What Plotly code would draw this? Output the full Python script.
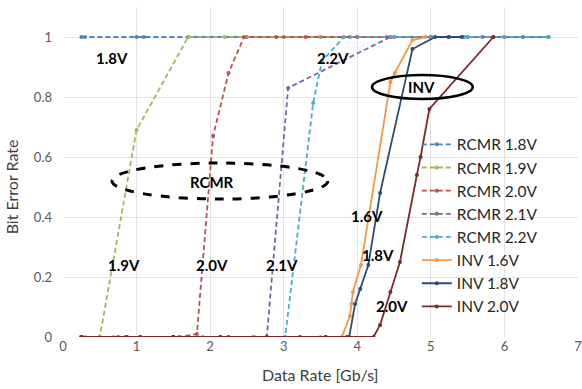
import plotly.graph_objects as go

# ---- data ----
rcmr18_x = [0.25, 0.3, 1.0, 1.1, 1.7, 2.5, 3.0, 3.5, 3.9, 4.4, 5.25, 5.45, 5.7, 6.25, 6.6]
rcmr18_y = [1, 1, 1, 1, 1, 1, 1, 1, 1, 1, 1, 1, 1, 1, 1]

rcmr19_x = [0.25, 0.3, 0.5, 1.0, 1.7, 2.2, 3.0, 4.0, 5.0, 6.0]
rcmr19_y = [0, 0, 0, 0.69, 1, 1, 1, 1, 1, 1]

rcmr20_x = [0.25, 0.85, 1.05, 1.5, 1.58, 1.82, 2.04, 2.25, 2.46, 2.9, 3.3, 4.0, 4.5, 5.0, 5.85]
rcmr20_y = [0, 0, 0, 0, 0, 0.01, 0.67, 0.88, 1, 1, 1, 1, 1, 1, 1]

rcmr21_x = [0.25, 0.75, 1.5, 2.14, 2.59, 2.77, 3.06, 4.45, 5.0, 5.5, 6.0]
rcmr21_y = [0, 0, 0, 0, 0, 0, 0.83, 1, 1, 1, 1]

rcmr22_x = [0.25, 0.5, 1.05, 1.9, 2.59, 3.02, 3.40, 3.52, 3.82, 4.5, 5.0, 5.5, 6.0, 6.6]
rcmr22_y = [0, 0, 0, 0, 0, 0, 0.78, 0.92, 1, 1, 1, 1, 1, 1]

inv16_x = [0.25, 0.68, 1.5, 2.6, 3.5, 3.79, 3.90, 3.92, 3.94, 4.05, 4.45, 4.51, 4.75, 4.93]
inv16_y = [0, 0, 0, 0, 0, 0, 0.07, 0.11, 0.15, 0.24, 0.85, 0.88, 0.99, 1]

inv18_x = [0.25, 0.87, 1.5, 2.25, 3.22, 3.57, 3.89, 3.97, 4.04, 4.15, 4.31, 4.75, 5.06, 5.24, 5.42]
inv18_y = [0, 0, 0, 0, 0, 0, 0, 0.11, 0.16, 0.24, 0.48, 0.96, 1, 1, 1]

inv20_x = [0.25, 1.05, 1.5, 2.14, 2.77, 3.57, 3.86, 4.22, 4.31, 4.45, 4.58, 4.81, 4.86, 4.98, 5.85]
inv20_y = [0, 0, 0, 0, 0, 0, 0, 0, 0.04, 0.15, 0.25, 0.54, 0.60, 0.76, 1]

series = [
    ("RCMR 1.8V", rcmr18_x, rcmr18_y, "#4F81BD", "5px,3px"),
    ("RCMR 1.9V", rcmr19_x, rcmr19_y, "#9BBB59", "5px,3px"),
    ("RCMR 2.0V", rcmr20_x, rcmr20_y, "#C0504D", "5px,3px"),
    ("RCMR 2.1V", rcmr21_x, rcmr21_y, "#8064A2", "5px,3px"),
    ("RCMR 2.2V", rcmr22_x, rcmr22_y, "#4BACC6", "5px,3px"),
    ("INV 1.6V", inv16_x, inv16_y, "#F79646", "solid"),
    ("INV 1.8V", inv18_x, inv18_y, "#2C4D75", "solid"),
    ("INV 2.0V", inv20_x, inv20_y, "#772C2A", "solid"),
]

x_ticks = [0, 1, 2, 3, 4, 5, 6, 7]
y_ticks = [0, 0.2, 0.4, 0.6, 0.8, 1]
y_ticktext = ["0", "0.2", "0.4", "0.6", "0.8", "1"]

labels = [
    ("1.8V", 0.67, 0.93), ("1.9V", 0.83, 0.24), ("2.0V", 2.03, 0.24),
    ("2.1V", 2.98, 0.24), ("2.2V", 3.67, 0.93), ("1.6V", 4.13, 0.403),
    ("1.8V", 4.28, 0.273), ("2.0V", 4.47, 0.103),
    ("RCMR", 2.03, 0.517), ("INV", 4.87, 0.833),
]

x_title = "Data Rate [Gb/s]"
y_title = "Bit Error Rate"

FONT = "Lato, 'Open Sans', sans-serif"

fig = go.Figure()
for i, (name, xs, ys, col, dash) in enumerate(series):
    fig.add_trace(go.Scatter(
        x=xs, y=ys, name=name, mode="lines+markers",
        line=dict(color=col, width=1.8, dash=dash),
        marker=dict(color=col, size=4),
    ))

for txt, lx, ly in labels:
    fig.add_annotation(x=lx, y=ly, text=f"<b>{txt}</b>", showarrow=False,
                       font=dict(family=FONT, size=15, color="black"))

# axis titles
fig.add_annotation(xref="paper", yref="paper", x=0.5, y=-0.115, yanchor="middle",
                   text=x_title, showarrow=False,
                   font=dict(family=FONT, size=16, color="#404040"))
fig.add_annotation(xref="paper", yref="paper", x=-0.1, y=0.455, xanchor="center",
                   text=y_title, textangle=-90, showarrow=False,
                   font=dict(family=FONT, size=16, color="#404040"))

fig.add_shape(type="circle", xref="x", yref="y", x0=0.666, x1=3.60, y0=0.46, y1=0.58,
              line=dict(color="black", width=3, dash="dash"))
fig.add_shape(type="circle", xref="x", yref="y", x0=4.20, x1=5.57, y0=0.793, y1=0.873,
              line=dict(color="black", width=2.5))

fig.update_layout(
    width=582, height=389,
    margin=dict(l=63, r=4, t=7, b=52, autoexpand=False),
    paper_bgcolor="white", plot_bgcolor="white",
    font=dict(family=FONT, color="#404040"),
    legend=dict(x=0.687, y=0.634, xanchor="left", yanchor="top",
                font=dict(size=15.5, color="#262626", family=FONT),
                bgcolor="rgba(0,0,0,0)", itemwidth=30),
    showlegend=True,
)
fig.update_xaxes(range=[0, 7], tickvals=x_ticks, showgrid=True, gridcolor="#E3E3E3",
                 zeroline=False, showline=False, automargin=False,
                 ticklabeloverflow="allow",
                 tickfont=dict(size=13, color="#595959", family=FONT))
fig.update_yaxes(range=[0, 1.1], tickvals=y_ticks, ticktext=y_ticktext,
                 showgrid=True, gridcolor="#E3E3E3", automargin=False,
                 zeroline=False, showline=False, ticklabelstandoff=10,
                 tickfont=dict(size=13, color="#595959", family=FONT))

fig.write_html("out.html", config={"displayModeBar": False},
               post_script="document.body.style.margin='0';document.body.style.overflow='hidden';")
